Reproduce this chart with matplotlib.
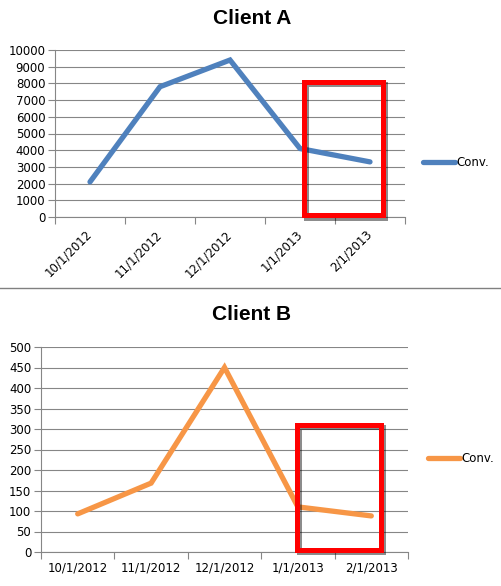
import matplotlib
matplotlib.use("Agg")
import matplotlib.pyplot as plt
from matplotlib.patches import Rectangle
from matplotlib.lines import Line2D
import matplotlib.patheffects as pe

categories = ["10/1/2012", "11/1/2012", "12/1/2012", "1/1/2013", "2/1/2013"]
client_a = [2100, 7800, 9400, 4100, 3300]
client_b = [93, 168, 450, 110, 88]
series_name = "Conv."

plt.rcParams['font.family'] = ['DejaVu Sans']
W, H = 502, 586
fig = plt.figure(figsize=(W / 100, H / 100), dpi=100)

GRID = "#868686"
FS = 8.5

def fx(px):
    return px / W

def fy(py):
    return 1 - py / H

def style_axes(ax, ymax, ystep, rot):
    n = len(categories)
    x = list(range(n))
    ax.set_xlim(-0.5, n - 0.5)
    ax.set_ylim(0, ymax)
    ax.set_yticks(list(range(0, ymax + 1, ystep)))
    ax.set_xticks(x)
    ax.set_xticks([i - 0.5 for i in range(n + 1)], minor=True)
    ax.tick_params(axis='x', which='major', length=0, labelsize=FS, pad=11 if rot else 7)
    ax.tick_params(axis='x', which='minor', length=5, color=GRID, width=0.8)
    ax.tick_params(axis='y', length=5, color=GRID, width=0.8, labelsize=FS, pad=2)
    if rot:
        ax.set_xticklabels(categories, rotation=45, ha='right', va='center', rotation_mode='anchor')
    else:
        ax.set_xticklabels(categories)
    ax.grid(axis='y', color=GRID, linewidth=0.8)
    ax.set_axisbelow(True)
    for s in ['top', 'right']:
        ax.spines[s].set_visible(False)
    for s in ['left', 'bottom']:
        ax.spines[s].set_color(GRID)
        ax.spines[s].set_linewidth(0.8)

def red_box(ax, x0, y0, x1, y1):
    r = Rectangle((x0, y0), x1 - x0, y1 - y0, fill=False, edgecolor='#FF0000',
                  linewidth=3.6, clip_on=False, zorder=5, joinstyle='miter',
                  path_effects=[pe.SimpleLineShadow(offset=(1.5, -1.5), shadow_color='black', alpha=0.45),
                                pe.Normal()])
    ax.add_patch(r)

# Client A
axA = fig.add_axes([fx(55), fy(217), fx(405) - fx(55), fy(50) - fy(217)])
style_axes(axA, 10000, 1000, True)
axA.plot(range(len(categories)), client_a, color='#4F81BD', linewidth=3.8,
         solid_capstyle='round', solid_joinstyle='miter', label=series_name, zorder=3)
red_box(axA, 3.06, 90, 4.18, 8100)
axA.legend(loc='center left', bbox_to_anchor=(fx(423), fy(163)), bbox_transform=fig.transFigure,
           frameon=False, fontsize=FS, handlelength=2.7, handletextpad=0.1, borderpad=0, borderaxespad=0)
fig.text(fx(252), fy(18), "Client A", ha='center', va='center', fontsize=15, fontweight='bold',
         family='Liberation Sans')

# divider
fig.add_artist(Line2D([0, 1], [fy(288), fy(288)], transform=fig.transFigure, color='#808080', linewidth=1))

# Client B
axB = fig.add_axes([fx(41), fy(552), fx(408) - fx(41), fy(347) - fy(552)])
style_axes(axB, 500, 50, False)
axB.plot(range(len(categories)), client_b, color='#F79646', linewidth=3.8,
         solid_capstyle='round', solid_joinstyle='miter', label=series_name, zorder=3)
red_box(axB, 2.99, 4, 4.13, 309)
axB.legend(loc='center left', bbox_to_anchor=(fx(428), fy(459)), bbox_transform=fig.transFigure,
           frameon=False, fontsize=FS, handlelength=2.7, handletextpad=0.1, borderpad=0, borderaxespad=0)
fig.text(fx(252), fy(315), "Client B", ha='center', va='center', fontsize=15, fontweight='bold',
         family='Liberation Sans')

fig.savefig("out.png", dpi=100)
